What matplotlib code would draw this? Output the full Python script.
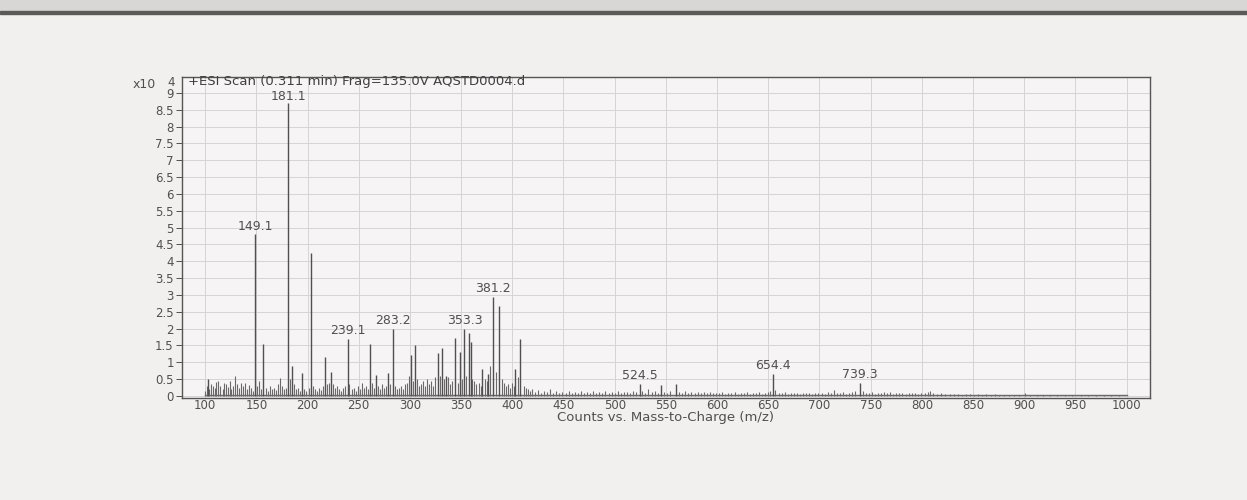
"""Scanned ESI mass spectrum, redrawn as a stick plot."""
import matplotlib
matplotlib.use("Agg")
import matplotlib.pyplot as plt
from matplotlib.patches import Rectangle
import numpy as np

# labelled / prominent peaks (m/z, counts x10^4)
peak_mz = [103, 149.1, 156.6, 181.1, 185, 195, 203, 217, 222.7, 239.1, 261, 267,
           279, 283.2, 300.7, 304.6, 327, 331, 335, 344, 349, 353.3, 358, 360,
           370, 376, 381.2, 387, 403, 408, 524.5, 545, 560, 654.4, 739.3]
peak_int = [0.5, 4.8, 1.55, 8.7, 0.9, 0.68, 4.25, 1.15, 0.72, 1.7, 1.55, 0.62,
            0.67, 2.0, 1.22, 1.52, 1.27, 1.41, 0.6, 1.73, 1.32, 1.98, 1.86, 1.6,
            0.79, 0.65, 2.95, 2.67, 0.8, 1.68, 0.35, 0.33, 0.35, 0.65, 0.4]

# low-level "grass" between the main peaks
grass_mz = [100, 102, 104, 106, 108, 110, 111, 113, 115, 117, 118, 120, 122, 124, 125,
            127, 129, 131, 133, 135, 137, 139, 141, 143, 145, 147, 151, 153, 155, 159,
            161, 163, 165, 167, 169, 171, 173, 175, 177, 179, 183, 187, 189, 191, 193,
            197, 199, 201, 205, 207, 209, 211, 213, 215, 219, 221, 225, 227, 229, 231,
            233, 235, 237, 241, 243, 245, 247, 249, 251, 253, 255, 257, 259, 263, 265,
            269, 271, 273, 275, 277, 281, 285, 287, 289, 291, 293, 295, 297, 299, 303,
            307, 309, 311, 313, 315, 317, 319, 321, 323, 325, 329, 333, 337, 339, 341,
            347, 351, 355, 361, 363, 365, 367, 369, 373, 375, 378, 384, 390, 392, 394,
            396, 398, 400, 402, 406, 411, 413, 415, 417,
            419, 422, 425, 428, 431, 434, 437, 440, 443, 446, 449, 452, 455, 458, 461,
            464, 467, 470, 473, 476, 479, 482, 485, 488, 491, 494, 497, 500, 503, 506,
            509, 512, 515, 518, 521, 527, 530, 533, 536, 539, 542, 548, 551, 554, 563,
            566, 569, 572, 575, 578, 581, 584, 587, 590, 593, 596, 599,
            602, 605, 608, 611, 614, 617, 620, 623, 626, 629, 632, 635, 638, 641, 644,
            647, 650, 652, 657, 660, 663, 666, 669, 672, 675, 678, 681, 684, 687, 690,
            693, 696, 699, 702, 705, 708, 711, 714, 717, 720, 723, 726, 729, 732, 735,
            742, 745, 748, 751, 754, 757, 760, 763, 766, 769, 772, 775, 778, 781, 784,
            787, 790, 793, 796, 799,
            803, 806, 808, 811, 815, 819, 823, 827, 831, 835, 839, 843, 847, 851, 855,
            859, 863, 867, 871, 875, 880, 885, 890, 895, 901, 906, 912, 918, 925, 932,
            940, 947, 955, 962, 970, 978, 985, 992]
grass_int = [0.15, 0.3, 0.2, 0.35, 0.3, 0.25, 0.42, 0.45, 0.3, 0.22, 0.38, 0.35, 0.28, 0.45, 0.2,
             0.3, 0.6, 0.35, 0.25, 0.4, 0.3, 0.38, 0.2, 0.32, 0.25, 0.15, 0.3, 0.45, 0.2, 0.25,
             0.15, 0.3, 0.2, 0.25, 0.18, 0.35, 0.53, 0.3, 0.2, 0.25, 0.5, 0.35, 0.2, 0.25, 0.15,
             0.2, 0.15, 0.25, 0.3, 0.2, 0.15, 0.25, 0.18, 0.3, 0.35, 0.4, 0.35, 0.25, 0.3, 0.2,
             0.15, 0.25, 0.3, 0.35, 0.2, 0.25, 0.15, 0.3, 0.2, 0.38, 0.25, 0.3, 0.2, 0.4, 0.25,
             0.3, 0.2, 0.35, 0.25, 0.3, 0.35, 0.3, 0.2, 0.25, 0.3, 0.2, 0.35, 0.4, 0.6, 0.45,
             0.5, 0.3, 0.35, 0.45, 0.3, 0.5, 0.35, 0.45, 0.3, 0.55, 0.6, 0.5, 0.55, 0.35, 0.45,
             0.4, 0.5, 0.6, 0.5, 0.45, 0.35, 0.4, 0.3, 0.5, 0.45, 0.9, 0.7, 0.5, 0.4, 0.3,
             0.35, 0.25, 0.4, 0.3, 0.55, 0.3, 0.25, 0.2, 0.15,
             0.2, 0.12, 0.18, 0.1, 0.15, 0.12, 0.2, 0.1, 0.14, 0.09, 0.12, 0.1, 0.15, 0.08, 0.12,
             0.1, 0.16, 0.09, 0.13, 0.1, 0.14, 0.08, 0.12, 0.1, 0.16, 0.09, 0.12, 0.1, 0.14, 0.09,
             0.11, 0.13, 0.1, 0.15, 0.12, 0.14, 0.1, 0.2, 0.12, 0.15, 0.1, 0.12, 0.1, 0.14, 0.12,
             0.1, 0.14, 0.09, 0.12, 0.1, 0.13, 0.08, 0.11, 0.1, 0.12, 0.08, 0.1,
             0.08, 0.12, 0.07, 0.1, 0.08, 0.12, 0.07, 0.1, 0.09, 0.12, 0.07, 0.1, 0.08, 0.11, 0.07,
             0.1, 0.12, 0.15, 0.18, 0.1, 0.08, 0.11, 0.07, 0.09, 0.08, 0.1, 0.07, 0.09, 0.08, 0.1,
             0.07, 0.09, 0.08, 0.1, 0.07, 0.12, 0.09, 0.17, 0.1, 0.08, 0.11, 0.07, 0.1, 0.12, 0.15,
             0.15, 0.1, 0.08, 0.11, 0.07, 0.1, 0.08, 0.12, 0.09, 0.11, 0.07, 0.1, 0.08, 0.1, 0.07,
             0.09, 0.08, 0.1, 0.07, 0.09,
             0.08, 0.12, 0.15, 0.09, 0.06, 0.08, 0.05, 0.07, 0.05, 0.06, 0.04, 0.05, 0.06, 0.04, 0.05,
             0.04, 0.06, 0.03, 0.05, 0.04, 0.03, 0.04, 0.03, 0.04, 0.08, 0.03, 0.03, 0.04, 0.03, 0.03,
             0.04, 0.03, 0.03, 0.04, 0.03, 0.03, 0.03, 0.03]

label_mz = [149.1, 181.1, 239.1, 283.2, 353.3, 381.2, 524.5, 654.4, 739.3]
label_y = [4.85, 8.7, 1.75, 2.05, 2.05, 3.0, 0.42, 0.7, 0.45]

INK = "#505050"
plt.rcParams["font.family"] = ["DejaVu Sans"]

fig = plt.figure(figsize=(12.47, 5.0), dpi=100, facecolor="#f2efef")
# scanner edge at the top of the page
fig.add_artist(Rectangle((0, 0.974), 1, 0.026, transform=fig.transFigure,
                         color="#d9d6d6", zorder=0))
fig.add_artist(Rectangle((0, 0.972), 1, 0.005, transform=fig.transFigure,
                         color="#5a5a5a", zorder=0))

ax = fig.add_axes([0.146, 0.204, 0.776, 0.642], facecolor="#f6f4f4")
ax.set_xlim(77.5, 1022.5)
ax.set_ylim(-0.06, 9.47)

ax.set_xticks(np.arange(100, 1001, 50))
ax.set_yticks(np.arange(0, 9.01, 0.5))
ax.set_yticklabels([f"{v:g}" for v in np.arange(0, 9.01, 0.5)])
ax.grid(True, color="#d6d4d4", lw=0.7)
ax.set_axisbelow(True)
ax.tick_params(labelsize=8.5, colors=INK, width=0.7)
ax.tick_params(axis="y", length=4, pad=2)
ax.tick_params(axis="x", length=0, pad=1)
for s in ax.spines.values():
    s.set_color("#555555")
    s.set_linewidth(1.0)

# baseline + sticks
ax.plot([100, 1000], [0.02, 0.02], color="#6a6a6a", lw=1.0)
ax.vlines(grass_mz, 0, grass_int, color="#6a6a6a", lw=0.8)
ax.vlines(peak_mz, 0, peak_int, color="#505050", lw=1.0)

for mz, y in zip(label_mz, label_y):
    ax.text(mz, y, f"{mz:.1f}", ha="center", va="bottom", fontsize=9, color=INK)

ax.text(0.006, 0.985, "+ESI Scan (0.311 min) Frag=135.0V AQSTD0004.d",
        transform=ax.transAxes, ha="left", va="center", fontsize=9.5, color="#404040")
fig.text(0.106, 0.830, "x10", ha="left", va="center", fontsize=9, color=INK)
fig.text(0.134, 0.834, "4", ha="left", va="center", fontsize=8.5, color=INK)

ax.set_xlabel("Counts vs. Mass-to-Charge (m/z)", fontsize=9.5, color=INK, labelpad=-1)

fig.savefig("out.png", dpi=100, facecolor=fig.get_facecolor())
